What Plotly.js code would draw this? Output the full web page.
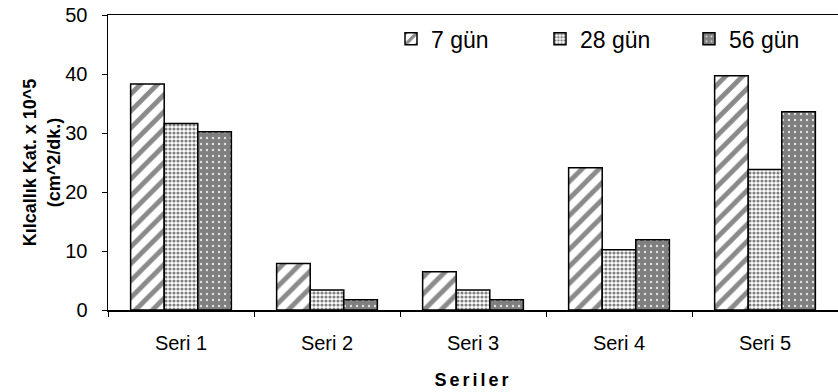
<!DOCTYPE html>
<html>
<head>
<meta charset="utf-8">
<script src="https://cdn.plot.ly/plotly-3.0.1.min.js"></script>
<style>
  html, body { margin: 0; padding: 0; background: #fff; }
  #chart { width: 838px; height: 392px; }
  .xtitle { letter-spacing: 3px; }
</style>
</head>
<body>
<div id="chart"></div>
<script>
// Capillarity coefficient per series, at three curing ages
const categories = ['Seri 1', 'Seri 2', 'Seri 3', 'Seri 4', 'Seri 5'];
const seriesNames = ['7 gün', '28 gün', '56 gün'];
const values7 = [38.3, 7.9, 6.5, 24.1, 39.7];
const values28 = [31.6, 3.4, 3.4, 10.2, 23.8];
const values56 = [30.2, 1.75, 1.75, 11.9, 33.6];
const yTicks = [0, 10, 20, 30, 40, 50];

const FONT = 'Arial, "Liberation Sans", sans-serif';

const patterns = [
  { shape: '/', fgcolor: '#8a8a8a', bgcolor: '#ffffff', size: 12, solidity: 0.4 },
  { shape: '.', fgcolor: '#808080', bgcolor: '#ffffff', size: 4, solidity: 0.5 },
  { shape: '.', fgcolor: '#e2e2e2', bgcolor: '#7f7f7f', size: 6, solidity: 0.12 }
];

const allValues = [values7, values28, values56];

const traces = allValues.map((vals, i) => ({
  type: 'bar',
  name: seriesNames[i],
  x: categories,
  y: vals,
  marker: {
    color: patterns[i].bgcolor,
    line: { color: '#000000', width: 1.5 },
    pattern: patterns[i]
  },
  hoverinfo: 'x+y+name'
}));

const layout = {
  width: 838,
  height: 392,
  margin: { l: 108, r: 0, t: 15, b: 82 },
  paper_bgcolor: '#ffffff',
  plot_bgcolor: '#ffffff',
  barmode: 'group',
  bargap: 0.31,
  bargroupgap: 0,
  font: { family: FONT, color: '#000000', size: 20 },
  showlegend: true,
  legend: {
    orientation: 'h',
    x: 1,
    xanchor: 'right',
    y: 0.992,
    yanchor: 'top',
    font: { family: FONT, size: 23, color: '#000000' },
    entrywidth: 104,
    entrywidthmode: 'pixels',
    bgcolor: 'rgba(0,0,0,0)',
    borderwidth: 0,
    traceorder: 'normal'
  },
  xaxis: {
    type: 'category',
    showline: true,
    linecolor: '#000000',
    linewidth: 1.5,
    mirror: true,
    ticks: 'outside',
    tickson: 'boundaries',
    ticklen: 5,
    tickwidth: 1,
    tickcolor: '#000000',
    ticklabelstandoff: 14,
    showgrid: false,
    zeroline: false,
    tickfont: { family: FONT, size: 20 },
    title: {
      text: 'Seriler',
      font: { family: FONT, size: 18, weight: 'bold' },
      standoff: 21
    }
  },
  yaxis: {
    range: [0, 50],
    tickvals: yTicks,
    ticktext: yTicks.map(String),
    showline: true,
    linecolor: '#000000',
    linewidth: 1.5,
    ticks: 'outside',
    ticklen: 5,
    tickwidth: 1,
    tickcolor: '#000000',
    ticklabelstandoff: 10,
    showgrid: false,
    zeroline: false,
    tickfont: { family: FONT, size: 20 },
    title: {
      text: 'Kılcallık Kat. x 10^5<br>(cm^2/dk.)',
      font: { family: FONT, size: 18, weight: 'bold' },
      standoff: 0
    }
  }
};

Plotly.newPlot('chart', traces, layout, { displayModeBar: false, staticPlot: true });
</script>
</body>
</html>
